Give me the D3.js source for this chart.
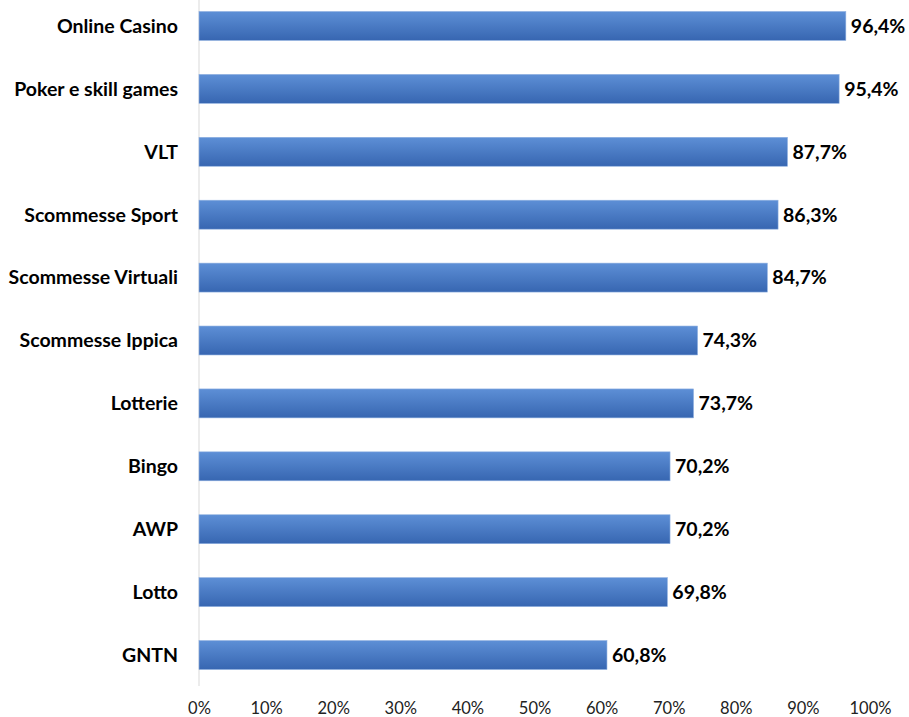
<!DOCTYPE html>
<html><head><meta charset="utf-8">
<script src="https://cdn.jsdelivr.net/npm/d3@7"></script>
<style>body{margin:0;background:#fff}svg{display:block}</style>
</head><body>
<svg id="c" width="909" height="717"></svg>
<script>
const categories = ["Online Casino","Poker e skill games","VLT","Scommesse Sport","Scommesse Virtuali","Scommesse Ippica","Lotterie","Bingo","AWP","Lotto","GNTN"];
const values = [96.4,95.4,87.7,86.3,84.7,74.3,73.7,70.2,70.2,69.8,60.8];
const tickValues = [0,10,20,30,40,50,60,70,80,90,100];

const svg = d3.select("#c");
const x = d3.scaleLinear().domain([0,100]).range([199,870]);
const y = d3.scaleBand().domain(categories).range([-5.5,686.5]).paddingInner(0.54).paddingOuter(0.27);

const defs = svg.append("defs");
const g = defs.append("linearGradient").attr("id","bg").attr("x1",0).attr("y1",0).attr("x2",0).attr("y2",1);
g.append("stop").attr("offset","0%").attr("stop-color","#5d8fd6");
g.append("stop").attr("offset","100%").attr("stop-color","#3766b1");

svg.append("line").attr("x1",x(0)).attr("x2",x(0)).attr("y1",0).attr("y2",686)
  .attr("stroke","#d9d9d9").attr("stroke-width",1);

svg.selectAll("rect.bar").data(values).join("rect").attr("class","bar")
  .attr("x",x(0)).attr("y",(d,i)=>y(categories[i]))
  .attr("width",d=>x(d)-x(0)).attr("height",y.bandwidth())
  .attr("fill","url(#bg)").attr("stroke","#8fb0e0").attr("stroke-width",0.6);

const font = "Lato, 'Open Sans', sans-serif";
svg.selectAll("text.cat").data(categories).join("text").attr("class","cat")
  .attr("x",178).attr("y",d=>y(d)+y.bandwidth()/2).attr("dy","0.35em")
  .attr("text-anchor","end").attr("font-family",font).attr("font-weight","bold")
  .attr("font-size",19.5).attr("fill","#000").text(d=>d);

svg.selectAll("text.val").data(values).join("text").attr("class","val")
  .attr("x",d=>x(d)+5).attr("y",(d,i)=>y(categories[i])+y.bandwidth()/2).attr("dy","0.35em")
  .attr("font-family",font).attr("font-weight","bold")
  .attr("font-size",19.5).attr("fill","#000").text(d=>d.toFixed(1).replace(".",",")+"%");

const ax = svg.append("g").attr("transform","translate(0,702)")
  .call(d3.axisBottom(x).tickValues(tickValues).tickSize(0).tickPadding(0).tickFormat(d=>d+"%"));
ax.select(".domain").remove();
ax.selectAll("text").attr("font-family",font).attr("font-size",16.5).attr("fill","#222");
</script>
</body></html>
